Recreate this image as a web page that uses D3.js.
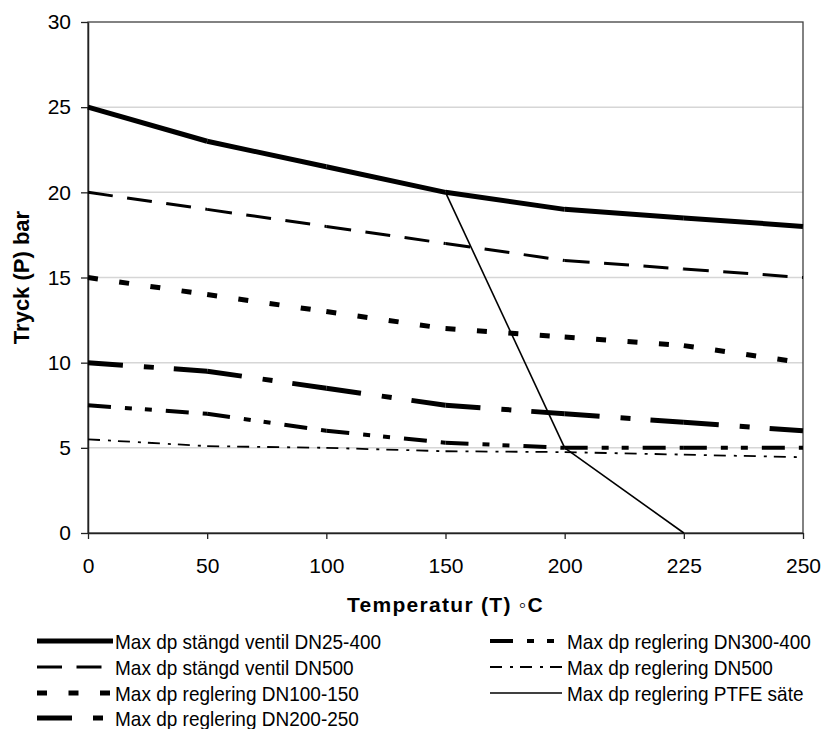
<!DOCTYPE html>
<html>
<head>
<meta charset="utf-8">
<script src="https://cdn.jsdelivr.net/npm/d3@7"></script>
<style>
  body { margin: 0; background: #fff; }
  text { font-family: "Liberation Sans", Arial, sans-serif; fill: #000; }
</style>
</head>
<body>
<div id="chart"></div>
<script>
// categories on the x axis (Excel category axis, evenly spaced)
const categories = ["0", "50", "100", "150", "200", "225", "250"];
const yTicks = [0, 5, 10, 15, 20, 25, 30];

// series values (bar)
const stangdDN25_400 = [25, 23, 21.5, 20, 19, 18.5, 18];
const stangdDN500 = [20, 19, 18, 17, 16, 15.5, 15];
const reglDN100_150 = [15, 14, 13, 12, 11.5, 11, 10];
const reglDN200_250 = [10, 9.5, 8.5, 7.5, 7, 6.5, 6];
const reglDN300_400 = [7.5, 7, 6, 5.3, 5, 5, 5];
const reglDN500 = [5.5, 5.1, 5, 4.8, 4.75, 4.6, 4.45];
const reglPTFE = [null, null, null, 20, 5, 0, null];

const seriesNames = [
  "Max dp stängd ventil DN25-400",
  "Max dp stängd ventil DN500",
  "Max dp reglering DN100-150",
  "Max dp reglering DN200-250",
  "Max dp reglering DN300-400",
  "Max dp reglering DN500",
  "Max dp reglering PTFE säte"
];
const seriesValues = [stangdDN25_400, stangdDN500, reglDN100_150, reglDN200_250,
  reglDN300_400, reglDN500, reglPTFE];

// line styles (width, dash) per series
const lineStyles = [
  { w: 5, dash: null },
  { w: 3, dash: "25,14.5" },
  { w: 5, dash: "10,21.5" },
  { w: 5, dash: "35,21,10,20" },
  { w: 4, dash: "23,14,7,13,7,14" },
  { w: 1.8, dash: "12,8,3,7" },
  { w: 1.6, dash: null }
];

const width = 826, height = 729;
const margin = { top: 22, right: 23, bottom: 196, left: 88 };

const svg = d3.select("#chart")
  .append("svg")
  .attr("width", width)
  .attr("height", height);

const x = d3.scalePoint()
  .domain(categories)
  .range([margin.left, width - margin.right]);

const y = d3.scaleLinear()
  .domain([0, 30])
  .range([height - margin.bottom, margin.top]);

// gridlines
svg.append("g")
  .selectAll("line")
  .data(yTicks.filter(d => d > 0 && d < 30))
  .join("line")
  .attr("x1", x.range()[0])
  .attr("x2", x.range()[1])
  .attr("y1", d => y(d))
  .attr("y2", d => y(d))
  .attr("stroke", "#d6d6d6")
  .attr("stroke-width", 1.5);

// plot area border (top + right)
svg.append("rect")
  .attr("x", x.range()[0])
  .attr("y", y(30))
  .attr("width", x.range()[1] - x.range()[0])
  .attr("height", y(0) - y(30))
  .attr("fill", "none")
  .attr("stroke", "#404040")
  .attr("stroke-width", 1.3);

// y axis
const yAxis = svg.append("g")
  .attr("transform", `translate(${margin.left},0)`)
  .call(d3.axisLeft(y).tickValues(yTicks).tickSize(7).tickPadding(10).tickSizeOuter(0));
yAxis.select(".domain").attr("stroke", "#222").attr("stroke-width", 1.5);
yAxis.selectAll(".tick line").attr("stroke", "#222").attr("stroke-width", 1.3);
yAxis.selectAll(".tick text").style("font-size", "21px").attr("fill", "#000");

// x axis
const xAxis = svg.append("g")
  .attr("transform", `translate(0,${y(0)})`)
  .call(d3.axisBottom(x).tickSize(6).tickPadding(19).tickSizeOuter(0));
xAxis.select(".domain").attr("stroke", "#222").attr("stroke-width", 1.5);
xAxis.selectAll(".tick line").attr("stroke", "#222").attr("stroke-width", 1.3);
xAxis.selectAll(".tick text").style("font-size", "21px").attr("fill", "#000");

// lines: every segment is its own path so the dash pattern restarts at each point, like Excel
const line = d3.line().x(d => x(d.cat)).y(d => y(d.v));

seriesValues.forEach((vals, si) => {
  const segs = [];
  for (let i = 0; i < vals.length - 1; i++) {
    if (vals[i] != null && vals[i + 1] != null) {
      segs.push([{ cat: categories[i], v: vals[i] }, { cat: categories[i + 1], v: vals[i + 1] }]);
    }
  }
  const st = lineStyles[si];
  svg.append("g")
    .selectAll("path")
    .data(segs)
    .join("path")
    .attr("d", line)
    .attr("fill", "none")
    .attr("stroke", "#000")
    .attr("stroke-width", st.w)
    .attr("stroke-linecap", "butt")
    .attr("stroke-linejoin", "round")
    .attr("stroke-dasharray", st.dash);
});

// axis titles
svg.append("text")
  .attr("x", (x.range()[0] + x.range()[1]) / 2)
  .attr("y", 612)
  .attr("text-anchor", "middle")
  .style("font-size", "21px")
  .style("font-weight", "bold")
  .style("letter-spacing", "1.3px")
  .text("Temperatur (T) ◦C");

svg.append("text")
  .attr("transform", `translate(29,${(y(0) + y(30)) / 2}) rotate(-90)`)
  .attr("text-anchor", "middle")
  .style("font-size", "22px")
  .style("font-weight", "bold")
  .text("Tryck (P) bar");

// legend, two columns
const legendPos = [
  [37, 641], [37, 667], [37, 693], [37, 718],
  [490, 641], [490, 667], [490, 693]
];
seriesNames.forEach((name, i) => {
  const [lx, ly] = legendPos[i];
  const st = lineStyles[i];
  const g = svg.append("g").attr("transform", `translate(${lx},${ly})`);
  g.append("line")
    .attr("x1", 0)
    .attr("x2", i < 4 ? 76 : 72)
    .attr("y1", 0)
    .attr("y2", 0)
    .attr("stroke", "#000")
    .attr("stroke-width", st.w)
    .attr("stroke-dasharray", st.dash);
  g.append("text")
    .attr("transform", `translate(${i < 4 ? 78 : 77},0) scale(1,1.1)`)
    .attr("dy", "0.36em")
    .style("font-size", "19px")
    .text(name);
});
</script>
</body>
</html>
